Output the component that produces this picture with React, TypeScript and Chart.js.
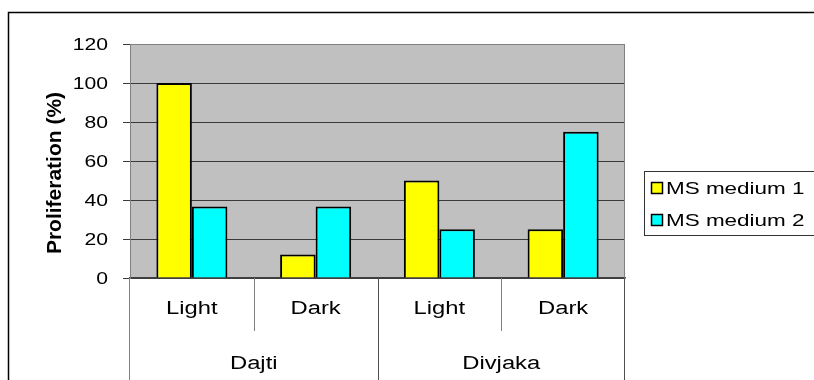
import { useEffect, useRef } from "react";
import { Chart, registerables } from "chart.js";

Chart.register(...registerables);

// Data
const sites = ["Dajti", "Divjaka"];
const conditions = ["Light", "Dark", "Light", "Dark"];
const medium1 = [100, 12, 50, 25];
const medium2 = [36.7, 36.7, 25, 75];
const seriesNames = ["MS medium 1", "MS medium 2"];
const seriesColors = ["#FFFF00", "#00FFFF"];
const yTickValues = [0, 20, 40, 60, 80, 100, 120];
const yTitle = "Proliferation (%)";

const FONT = '"Liberation Sans", Arial, sans-serif';
const SX = 1.32; // horizontal widening of the text

function drawText(
  ctx: CanvasRenderingContext2D,
  text: string,
  x: number,
  capCenterY: number,
  size: number,
  align: "left" | "center" | "right",
  bold = false,
  sx = SX
) {
  ctx.save();
  ctx.font = `${bold ? "bold " : ""}${size}px ${FONT}`;
  ctx.textAlign = "left";
  ctx.textBaseline = "alphabetic";
  ctx.fillStyle = "#000";
  const w = ctx.measureText(text).width * sx;
  const left = align === "center" ? x - w / 2 : align === "right" ? x - w : x;
  ctx.translate(left, capCenterY + 0.358 * size);
  ctx.scale(sx, 1);
  ctx.fillText(text, 0, 0);
  ctx.restore();
}

const decorPlugin = {
  id: "decor",
  beforeDraw(chart: any) {
    const { ctx, chartArea: a } = chart;
    ctx.save();
    // plot background
    ctx.fillStyle = "#C0C0C0";
    ctx.fillRect(a.left, a.top, a.right - a.left, a.bottom - a.top);
    // outer frame
    ctx.strokeStyle = "#000";
    ctx.lineWidth = 1.5;
    ctx.beginPath();
    ctx.moveTo(8.5, 400);
    ctx.lineTo(8.5, 12.5);
    ctx.lineTo(830, 12.5);
    ctx.stroke();
    ctx.restore();
  },
  afterDraw(chart: any) {
    const { ctx, chartArea: a } = chart;
    const x = chart.scales.x;
    const y = chart.scales.y;

    // right edge of plot area
    ctx.save();
    ctx.strokeStyle = "#808080";
    ctx.lineWidth = 1;
    ctx.beginPath();
    ctx.moveTo(Math.round(a.right) - 0.5, a.top);
    ctx.lineTo(Math.round(a.right) - 0.5, a.bottom);
    ctx.stroke();

    // category separators below the axis
    const half = (x.getPixelForValue(1) - x.getPixelForValue(0)) / 2;
    conditions.forEach((_, i) => {
      if (i === 0) return;
      const px = Math.round(x.getPixelForValue(i) - half) + 0.5;
      const isGroup = i % 2 === 0;
      ctx.strokeStyle = isGroup ? "#505050" : "#808080";
      ctx.beginPath();
      ctx.moveTo(px, a.bottom);
      ctx.lineTo(px, isGroup ? 390 : 331);
      ctx.stroke();
    });
    // outer group edges
    ctx.strokeStyle = "#808080";
    ctx.beginPath();
    ctx.moveTo(Math.round(a.left) - 0.5, a.bottom);
    ctx.lineTo(Math.round(a.left) - 0.5, 390);
    ctx.stroke();
    ctx.strokeStyle = "#505050";
    ctx.beginPath();
    ctx.moveTo(Math.round(a.right) - 0.5, a.bottom);
    ctx.lineTo(Math.round(a.right) - 0.5, 390);
    ctx.stroke();
    ctx.restore();

    // y tick labels
    yTickValues.forEach((v) => {
      drawText(ctx, String(v), 108, y.getPixelForValue(v), 16, "right");
    });

    // y title (rotated)
    ctx.save();
    ctx.translate(53, (a.top + a.bottom) / 2 + 12);
    ctx.rotate(-Math.PI / 2);
    drawText(ctx, yTitle, 0, 0, 21, "center", true, 1);
    ctx.restore();

    // category labels
    conditions.forEach((c, i) => {
      drawText(ctx, c, x.getPixelForValue(i), 308, 18, "center");
    });
    // site labels
    sites.forEach((s, g) => {
      const cx = (x.getPixelForValue(g * 2) + x.getPixelForValue(g * 2 + 1)) / 2;
      drawText(ctx, s, cx, 363, 18, "center");
    });

    // legend
    ctx.save();
    ctx.fillStyle = "#fff";
    ctx.fillRect(644.5, 171.5, 200, 64);
    ctx.strokeStyle = "#333";
    ctx.lineWidth = 1;
    ctx.strokeRect(644.5, 171.5, 200, 64);
    const rows = [188, 220];
    chart.data.datasets.forEach((ds: any, i: number) => {
      const cy = rows[i];
      ctx.fillStyle = ds.backgroundColor;
      ctx.fillRect(651.5, cy - 5.5, 11, 11);
      ctx.strokeStyle = "#000";
      ctx.lineWidth = 1.5;
      ctx.strokeRect(651.5, cy - 5.5, 11, 11);
      drawText(ctx, ds.label, 666, cy, 17, "left");
    });
    ctx.restore();
  },
};

export default function App() {
  const canvasRef = useRef<HTMLCanvasElement | null>(null);

  useEffect(() => {
    const canvas = canvasRef.current;
    if (!canvas) return;
    const chart = new Chart(canvas, {
      type: "bar",
      data: {
        labels: conditions,
        datasets: [medium1, medium2].map((vals, i) => ({
          label: seriesNames[i],
          data: vals,
          backgroundColor: seriesColors[i],
          borderColor: "#000",
          borderWidth: 2,
          categoryPercentage: 0.574,
          barPercentage: 1,
        })),
      },
      options: {
        responsive: false,
        animation: false,
        devicePixelRatio: 1,
        layout: { padding: { left: 0, top: 44, right: 189, bottom: 0 } },
        plugins: {
          legend: { display: false },
          tooltip: { enabled: false },
          title: { display: false },
        },
        scales: {
          x: {
            ticks: { display: false },
            grid: { display: false },
            border: { color: "#404040", width: 1.5 },
            afterFit: (s: any) => {
              s.height = 102;
            },
          },
          y: {
            min: 0,
            max: 120,
            ticks: { display: false, stepSize: 20 },
            grid: {
              color: (c: any) => (c.tick && c.tick.value === 120 ? "#808080" : "#3a3a3a"),
              tickColor: "#3a3a3a",
              tickLength: 7,
              lineWidth: 1,
            },
            border: { color: "#808080" },
            afterFit: (s: any) => {
              s.width = 130;
            },
          },
        },
      },
      plugins: [decorPlugin],
    });
    return () => chart.destroy();
  }, []);

  return (
    <div style={{ position: "fixed", left: 0, top: 0, width: 814, height: 380, background: "#fff" }}>
      <canvas ref={canvasRef} width={814} height={380} style={{ display: "block" }} />
    </div>
  );
}
